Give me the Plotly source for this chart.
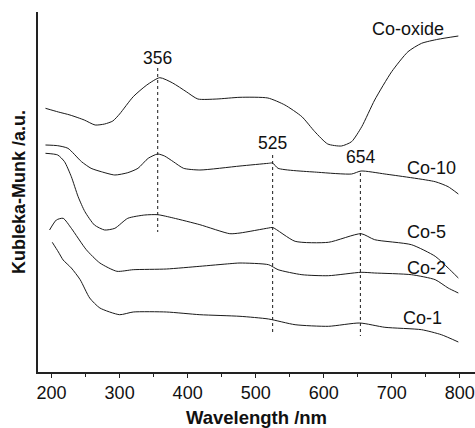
import plotly.graph_objects as go

# ---- data (wavelength nm, Kubelka-Munk in arbitrary units) ----
wl_oxide = [191, 210, 227, 248, 264, 278, 290, 300, 320, 340, 359, 378, 398, 415, 443, 477, 518, 543, 568, 587, 606, 626, 641, 656, 675, 700, 724, 744, 768, 798]
km_oxide = [263.7, 260, 257, 252, 247, 248, 251, 258, 275.3, 287, 294.3, 289, 280.3, 273, 273, 274.7, 274, 267, 255.3, 240.3, 228, 226, 230.3, 245.3, 272, 300.3, 320.3, 328.7, 332.7, 336]

wl_co10 = [191, 209, 224, 244, 258, 273, 293, 312, 327, 342, 356, 366, 379, 394, 418, 477, 519, 525, 533, 592, 641, 655, 690, 764, 783, 798]
km_co10 = [227, 226.3, 223.7, 210.3, 203.7, 200.3, 197, 199.3, 203.7, 213.7, 218, 216, 210.3, 203.7, 202, 206, 208.7, 209, 203.7, 199.7, 198, 201, 198, 190.3, 185.3, 178]

wl_co5 = [191, 209, 219, 229, 239, 249, 263, 278, 293, 312, 337, 356, 379, 418, 462, 477, 519, 525, 558, 607, 655, 675, 729, 764, 783, 798]
km_co5 = [218.7, 217, 210.3, 195.3, 175.3, 160.3, 147, 142, 143.7, 153.7, 157, 157.3, 154, 147.3, 138.3, 139, 144, 144.5, 130.7, 129.7, 138.3, 132.3, 127.3, 115.7, 104, 94]

wl_co2 = [197, 207, 217, 229, 251, 271, 296, 320, 369, 418, 462, 477, 519, 533, 568, 607, 655, 675, 729, 764, 783, 798]
km_co2 = [142, 152, 153.7, 143.7, 122.3, 109, 100.7, 102.3, 103, 105.7, 108.3, 109, 107.3, 102.3, 97.3, 96.3, 99.7, 99, 97.3, 92.3, 84, 79]

wl_co1 = [201, 210, 217, 229, 242, 256, 271, 300, 320, 369, 418, 477, 519, 558, 607, 653, 690, 744, 773, 798]
km_co1 = [129.7, 120, 112, 104, 92.3, 74, 64, 57.3, 60, 60, 57.3, 55.7, 53, 47.3, 45.7, 49, 44.7, 42.3, 37.3, 30]

# peak markers
peak_wl = [356, 525, 654]
peak_top = [304, 217, 199]
peak_bottom = [140, 37, 36]
peak_label_y = [314, 229, 215]

# series labels
series_names = ["Co-oxide", "Co-10", "Co-5", "Co-2", "Co-1"]
label_wl = [724, 759, 751, 751, 746]
label_km = [343, 204, 140, 104, 54]

FONT = "Liberation Sans, Arial, sans-serif"
LINE_COLOR = "#1a1a1a"
TEXT_COLOR = "#111"

fig = go.Figure()
for wl, km in [(wl_oxide, km_oxide), (wl_co10, km_co10), (wl_co5, km_co5),
               (wl_co2, km_co2), (wl_co1, km_co1)]:
    fig.add_trace(go.Scatter(x=wl, y=km, mode="lines",
                             line=dict(color=LINE_COLOR, width=1, shape="spline", smoothing=0.6),
                             hoverinfo="skip", showlegend=False))

for w, t, b in zip(peak_wl, peak_top, peak_bottom):
    fig.add_trace(go.Scatter(x=[w, w], y=[t, b], mode="lines",
                             line=dict(color=LINE_COLOR, width=1, dash="dot"),
                             hoverinfo="skip", showlegend=False))

annotations = []
for w, y in zip(peak_wl, peak_label_y):
    annotations.append(dict(x=w, y=y, text=str(w), showarrow=False,
                            xanchor="center", yanchor="middle",
                            font=dict(family=FONT, size=17.5, color=TEXT_COLOR)))
for n, x, y in zip(series_names, label_wl, label_km):
    annotations.append(dict(x=x, y=y, text=n, showarrow=False,
                            xanchor="center", yanchor="middle",
                            font=dict(family=FONT, size=18, color=TEXT_COLOR)))

fig.update_layout(
    width=475, height=428,
    margin=dict(l=38, r=0, t=12, b=56),
    paper_bgcolor="white", plot_bgcolor="white",
    annotations=annotations,
    xaxis=dict(range=[180, 822.5], showgrid=False, zeroline=False,
               showline=True, linecolor="#222", linewidth=1.5,
               tickvals=[200, 300, 400, 500, 600, 700, 800],
               ticks="outside", ticklen=4, tickwidth=1, tickcolor="#222",
               minor=dict(tickvals=[250, 350, 450, 550, 650, 750], ticks="outside",
                          ticklen=3, tickcolor="#222"),
               tickfont=dict(family=FONT, size=18, color=TEXT_COLOR),
               title=dict(text="<b>Wavelength /nm</b>", standoff=13,
                          font=dict(family=FONT, size=18.5, color=TEXT_COLOR))),
    yaxis=dict(range=[0, 360], showgrid=False, zeroline=False,
               showline=True, linecolor="#222", linewidth=1.5,
               showticklabels=False, ticks="",
               title=dict(text="<b>Kubleka-Munk /a.u.</b>", standoff=6,
                          font=dict(family=FONT, size=18, color=TEXT_COLOR))),
)

fig.write_html("out.html")
